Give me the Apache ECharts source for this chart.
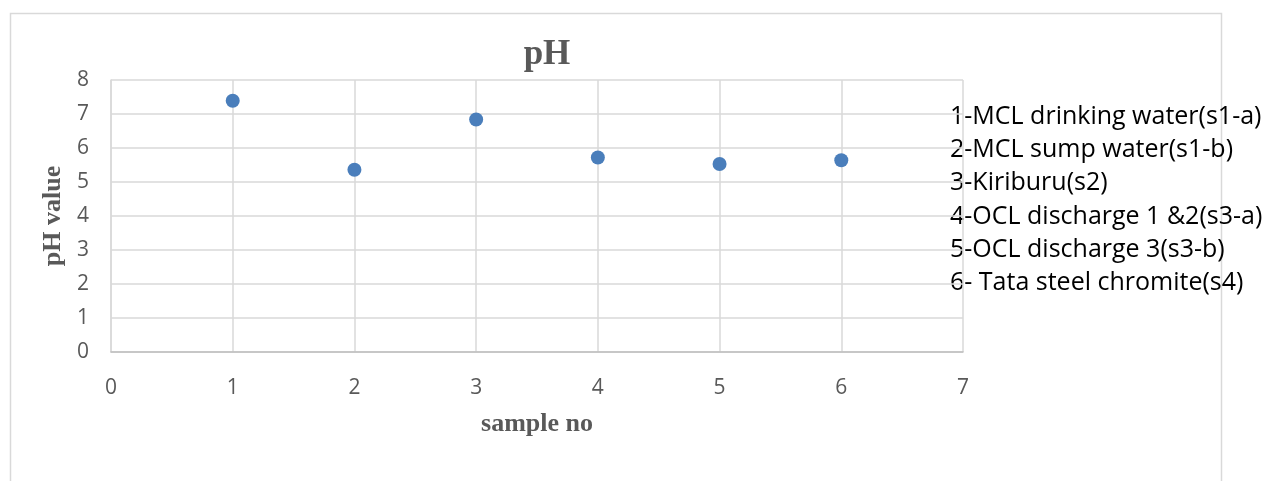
<!DOCTYPE html>
<html>
<head>
<meta charset="utf-8">
<script src="https://cdn.jsdelivr.net/npm/echarts@6/dist/echarts.min.js"></script>
<style>
  html, body { margin: 0; padding: 0; background: #fff; }
  #chart { width: 1277px; height: 481px; }
</style>
</head>
<body>
<div id="chart"></div>
<script>
// Sample numbers and measured pH
const sampleNo = [1, 2, 3, 4, 5, 6];
const phValues = [7.39, 5.36, 6.84, 5.72, 5.53, 5.64];
// Key listing what each sample number refers to
const sampleNames = [
  '1-MCL drinking water(s1-a)',
  '2-MCL sump water(s1-b)',
  '3-Kiriburu(s2)',
  '4-OCL discharge 1 &2(s3-a)',
  '5-OCL discharge 3(s3-b)',
  '6- Tata steel chromite(s4)'
];

const chart = echarts.init(document.getElementById('chart'), null, { renderer: 'canvas' });

const serif = '"Liberation Serif", "DejaVu Serif", serif';
const sans = '"Open Sans", "Noto Sans", "Liberation Sans", sans-serif';

const keyText = sampleNames.map((t, i) => ({
  type: 'text',
  left: 950,
  top: 104 + i * 33.3,
  style: { text: t, fill: '#000', font: '25px ' + sans }
}));

chart.setOption({
  animation: false,
  backgroundColor: '#fff',
  title: {
    text: 'pH',
    left: 542,
    top: 32,
    textAlign: 'center',
    textStyle: { fontFamily: serif, fontWeight: 'bold', fontSize: 35, color: '#595959' }
  },
  grid: { left: 111, top: 80, right: 314, bottom: 129 },
  xAxis: {
    type: 'value',
    min: 0, max: 7, interval: 1,
    name: 'sample no',
    nameLocation: 'middle',
    nameGap: 59,
    nameTextStyle: { fontFamily: serif, fontWeight: 'bold', fontSize: 26, color: '#595959' },
    axisLine: { show: true, lineStyle: { color: '#bfbfbf', width: 1.5 } },
    axisTick: { show: false },
    axisLabel: { fontFamily: sans, fontSize: 21, color: '#595959', margin: 26 },
    splitLine: { show: true, lineStyle: { color: '#d9d9d9', width: 1.5 } }
  },
  yAxis: {
    type: 'value',
    min: 0, max: 8, interval: 1,
    name: 'pH value',
    nameLocation: 'middle',
    nameGap: 40,
    nameTextStyle: { fontFamily: serif, fontWeight: 'bold', fontSize: 26, color: '#595959' },
    axisLine: { show: true, lineStyle: { color: '#d9d9d9', width: 1.5 } },
    axisTick: { show: false },
    axisLabel: { fontFamily: sans, fontSize: 21, color: '#595959', margin: 22 },
    splitLine: { show: true, lineStyle: { color: '#d9d9d9', width: 1.5 } }
  },
  series: [{
    type: 'scatter',
    data: sampleNo.map((x, i) => [x, phValues[i]]),
    symbol: 'circle',
    symbolSize: 14,
    itemStyle: { color: '#4a7ebb', opacity: 1 }
  }],
  graphic: [
    {
      type: 'rect',
      shape: { x: 10.5, y: 13.5, width: 1211, height: 500 },
      style: { fill: 'none', stroke: '#d9d9d9', lineWidth: 1.5 },
      silent: true,
      z: -1
    },
    ...keyText
  ]
});
</script>
</body>
</html>
